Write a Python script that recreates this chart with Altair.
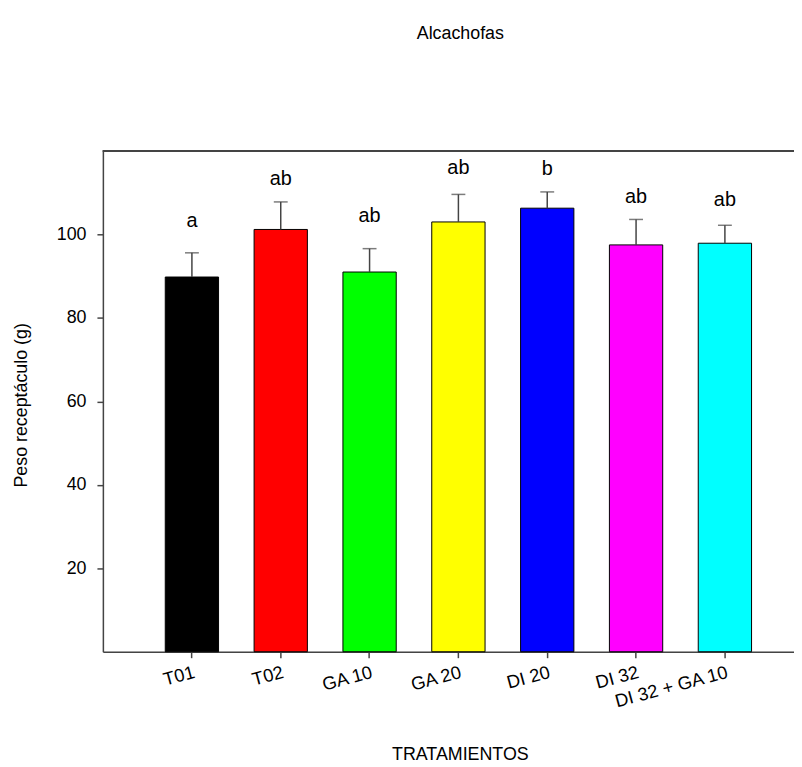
import altair as alt
import pandas as pd

categories = ["T01", "T02", "GA 10", "GA 20", "DI 20", "DI 32", "DI 32 + GA 10"]
means = [89.8, 101.2, 91.0, 103.0, 106.3, 97.5, 97.9]
errors = [5.8, 6.6, 5.6, 6.6, 3.9, 6.1, 4.3]
letters = ["a", "ab", "ab", "ab", "b", "ab", "ab"]
letter_y = [103.2, 113.2, 104.5, 116.0, 115.6, 108.9, 108.3]
colors = ["#000000", "#ff0000", "#00ff00", "#ffff00", "#0000ff", "#ff00ff", "#00ffff"]
y_ticks = [20, 40, 60, 80, 100]

df = pd.DataFrame({
    "cat": categories,
    "mean": means,
    "upper": [m + e for m, e in zip(means, errors)],
    "letter": letters,
    "ly": letter_y,
})

W = 697
H = 505
FONT = "Liberation Sans"
AX = "#444444"

xscale = alt.Scale(domain=categories, paddingInner=0.40, paddingOuter=0.59, align=0.595)
yscale = alt.Scale(domain=[0, 120], nice=False, zero=True)

x_axis = alt.Axis(
    title="TRATAMIENTOS", labelAngle=345, labelAlign="right", labelBaseline="top",
    labelFontSize=18.5, labelFont=FONT, labelColor="black", labelPadding=5,
    tickSize=6, tickColor=AX, tickWidth=1.5, domainColor=AX, domainWidth=1.5,
    titleFontSize=18, titleFont=FONT, titleFontWeight="normal", titleColor="black",
    titleX=360, titleY=104, titleBaseline="middle", grid=False, labelOverlap=False,
)
y_axis = alt.Axis(
    title="Peso receptáculo (g)", values=y_ticks, labelFontSize=18, labelFont=FONT,
    labelColor="black", labelPadding=11, tickSize=6, tickColor=AX, tickWidth=1.5,
    domainColor=AX, domainWidth=1.5, titleFontSize=18, titleFont=FONT,
    titleFontWeight="normal", titleColor="black", titleX=-82, titleY=256,
    titleBaseline="middle", grid=False,
)


def xenc():
    return alt.X("cat:N", scale=xscale, sort=categories, axis=x_axis)


def yenc(field):
    return alt.Y(field, scale=yscale, axis=y_axis)


base = alt.Chart(df)

bars = base.mark_bar(stroke="black", strokeWidth=1).encode(
    x=xenc(),
    y=yenc("mean:Q"),
    color=alt.Color("cat:N", scale=alt.Scale(domain=categories, range=colors), legend=None),
)

whiskers = base.mark_rule(color=AX, strokeWidth=1.5).encode(
    x=xenc(),
    y=yenc("mean:Q"),
    y2="upper:Q",
)

caps = base.mark_tick(color=AX, thickness=1.5, size=14).encode(
    x=xenc(),
    y=yenc("upper:Q"),
)

texts = base.mark_text(fontSize=20, font=FONT, baseline="middle", color="black").encode(
    x=xenc(),
    y=yenc("ly:Q"),
    text="letter:N",
)

border = base.mark_rule(color=AX, strokeWidth=1.5).encode(
    x=alt.value(0), x2=alt.value(W), y=alt.value(0)
)

chart = alt.layer(bars, whiskers, caps, texts, border).properties(
    width=W,
    height=H,
    autosize=alt.AutoSizeParams(type="none"),
    padding={"left": 95.7, "top": 141, "right": 0, "bottom": 112},
    title=alt.Title(
        "Alcachofas", fontSize=18, font=FONT, fontWeight="normal", anchor="middle",
        baseline="alphabetic", offset=94, dx=12, color="black",
    ),
).configure_view(strokeWidth=0).configure(background="white")

chart.save("out.html", embed_options={"renderer": "svg", "actions": False})
